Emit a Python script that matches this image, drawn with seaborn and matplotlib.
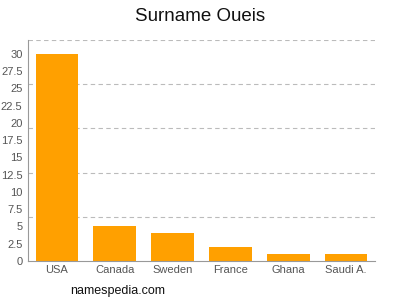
import matplotlib
matplotlib.use("Agg")
import matplotlib.pyplot as plt
import seaborn as sns
import numpy as np

countries = ["USA", "Canada", "Sweden", "France", "Ghana", "Saudi A."]
values = [30, 5, 4, 2, 1, 1]
ytick_vals = [0, 2.5, 5, 7.5, 10, 12.5, 15, 17.5, 20, 22.5, 25, 27.5, 30]
ytick_labels = ["0", "2.5", "5", "7.5", "10", "12.5", "15", "17.5", "20", "22.5", "25", "27.5", "30"]
grid_vals = [6.4, 12.8, 19.2, 25.6, 32]

sns.set_style("white")
plt.rcParams['font.family'] = ['Liberation Sans', 'DejaVu Sans']

fig = plt.figure(figsize=(4, 3), dpi=100)
ax = fig.add_axes([0.07, 0.13, 0.8675, 0.737])
sns.barplot(x=countries, y=values, color="#FFA000", saturation=1, width=0.74, ax=ax, edgecolor="none")
ax.set_ylim(0, 32)
ax.set_xlim(-0.5, 5.5)
for g in grid_vals:
    ax.axhline(g, color="#bbbbbb", linestyle=(0, (4, 3)), linewidth=0.8, zorder=0)
ax.set_yticks(ytick_vals)
ax.set_yticklabels(ytick_labels)
ax.tick_params(axis="both", labelsize=8, colors="#555555", length=2.5, width=0.6, color="#999999", pad=1.5)
ax.tick_params(axis="x", length=2, direction="in", pad=3)
for s in ["top", "right"]:
    ax.spines[s].set_visible(False)
for s in ["left", "bottom"]:
    ax.spines[s].set_color("#999999")
    ax.spines[s].set_linewidth(0.8)
ax.set_xlabel("")
ax.set_ylabel("")
fig.text(0.5, 0.945, "Surname Oueis", ha="center", va="center", fontsize=13.5, color="#111111")
fig.text(0.175, 0.03, "namespedia.com", ha="left", va="center", fontsize=9, color="#111111")
fig.savefig("out.png", dpi=100)
